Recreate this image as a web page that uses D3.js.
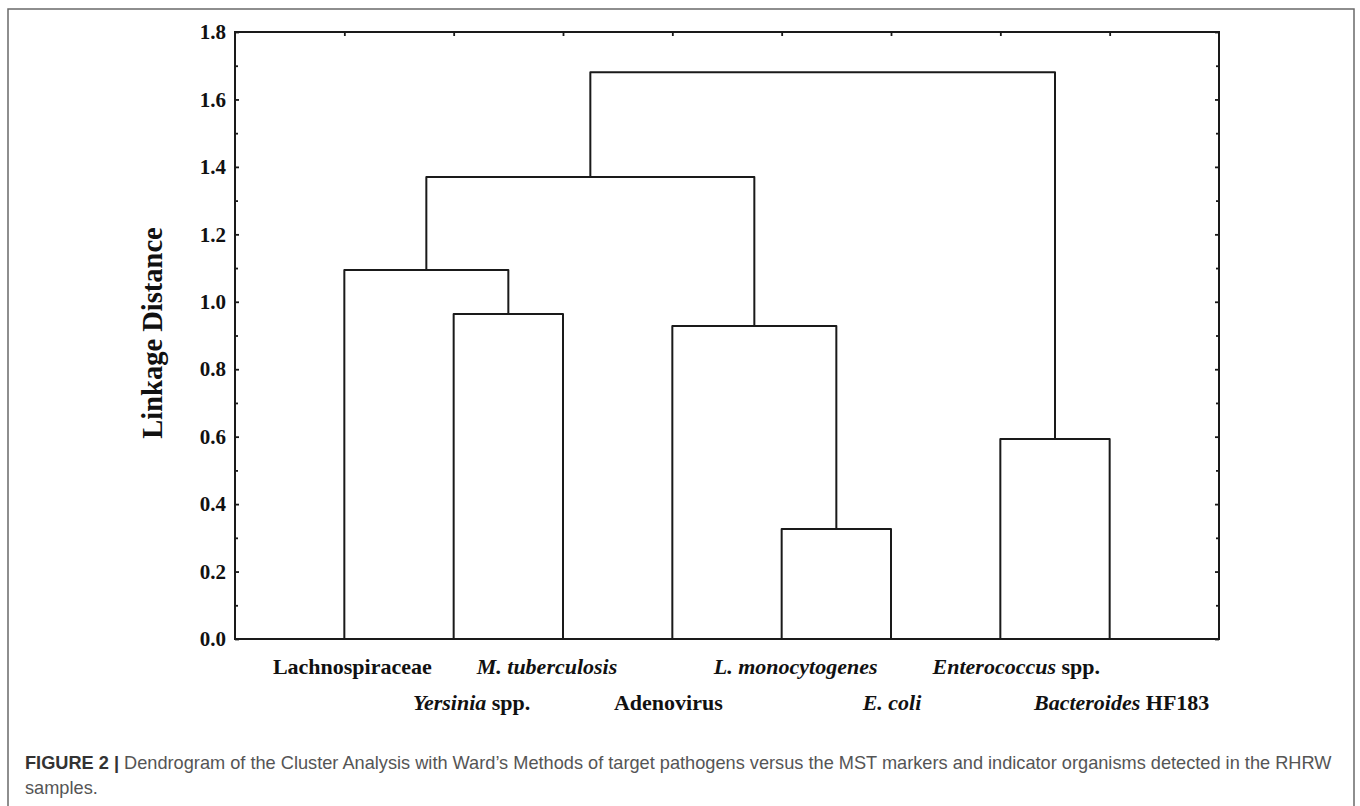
<!DOCTYPE html>
<html>
<head>
<meta charset="utf-8">
<script src="https://cdn.jsdelivr.net/npm/d3@7"></script>
<style>
  html, body { margin: 0; padding: 0; background: #fff; }
  svg { display: block; }
</style>
</head>
<body>
<svg id="chart" width="1360" height="806"></svg>
<script>
// Leaves in dendrogram order; each label is a list of [text, italic] runs
const leafNames = ["Lachnospiraceae", "Yersinia spp.", "M. tuberculosis", "Adenovirus",
                   "L. monocytogenes", "E. coli", "Enterococcus spp.", "Bacteroides HF183"];
const leafLabelRuns = [
  [["Lachnospiraceae", false]],
  [["Yersinia", true], [" spp.", false]],
  [["M. tuberculosis", true]],
  [["Adenovirus", false]],
  [["L. monocytogenes", true]],
  [["E. coli", true]],
  [["Enterococcus", true], [" spp.", false]],
  [["Bacteroides", true], [" HF183", false]]
];

// Joining steps (Ward's method): node ids 0-7 are leaves, each merge creates node 8, 9, ...
const mergeLeft   = [4, 6, 3, 1, 0, 12, 13];
const mergeRight  = [5, 7, 8, 2, 11, 10, 9];
const mergeHeight = [0.326, 0.593, 0.928, 0.964, 1.094, 1.370, 1.681];

const yTicks = [0.0, 0.2, 0.4, 0.6, 0.8, 1.0, 1.2, 1.4, 1.6, 1.8];
const yMinorTicks = [0.1, 0.3, 0.5, 0.7, 0.9, 1.1, 1.3, 1.5, 1.7];
const yTitle = "Linkage Distance";
const captionBold = "FIGURE 2 | ";
const captionLine1 = "Dendrogram of the Cluster Analysis with Ward\u2019s Methods of target pathogens versus the MST markers and indicator organisms detected in the RHRW";
const captionLine2 = "samples.";

const svg = d3.select("#chart");
const serif = "'Liberation Serif', 'Times New Roman', serif";
const sans = "'Liberation Sans', Arial, Helvetica, sans-serif";

// Outer figure frame (open at the bottom edge of the page)
svg.append("path")
  .attr("d", "M8,812 V9 H1354 V812")
  .attr("fill", "none").attr("stroke", "#6a6a6a").attr("stroke-width", 1.5);

const plot = { left: 235, right: 1219, top: 32, bottom: 639 };

const x = d3.scalePoint().domain(d3.range(leafNames.length))
  .range([plot.left, plot.right]).padding(1);
const y = d3.scaleLinear().domain([0, 1.8]).range([plot.bottom, plot.top]);

// Node positions: leaves on the point scale, clusters midway between their children
const nodeX = leafNames.map((_, i) => x(i));
const nodeH = leafNames.map(() => 0);
mergeLeft.forEach((l, k) => {
  const r = mergeRight[k];
  nodeX.push((nodeX[l] + nodeX[r]) / 2);
  nodeH.push(mergeHeight[k]);
});

const g = svg.append("g");
const ink = "#1a1a1a";

// Dendrogram links: up from each child, across at the merge height
const links = g.append("g").attr("fill", "none").attr("stroke", ink)
  .attr("stroke-width", 2).attr("stroke-linejoin", "round");
mergeLeft.forEach((l, k) => {
  const r = mergeRight[k];
  const h = mergeHeight[k];
  links.append("path").attr("d",
    `M${nodeX[l]},${y(nodeH[l])} V${y(h)} H${nodeX[r]} V${y(nodeH[r])}`);
});

// Axes
const axisStyle = sel => {
  sel.select(".domain").remove();
  sel.selectAll(".tick line").attr("stroke", ink).attr("stroke-width", 1.8);
};

const leftAxis = g.append("g").attr("transform", `translate(${plot.left},0)`)
  .call(d3.axisLeft(y).tickValues(yTicks).tickSize(-4).tickPadding(9).tickFormat(d3.format(".1f")));
leftAxis.call(axisStyle);
leftAxis.selectAll(".tick text")
  .attr("font-family", serif).attr("font-weight", "bold").attr("font-size", 21)
  .attr("fill", "#111");

g.append("g").attr("transform", `translate(${plot.left},0)`)
  .call(d3.axisLeft(y).tickValues(yMinorTicks).tickSize(-3).tickFormat(""))
  .call(axisStyle);

g.append("g").attr("transform", `translate(${plot.right},0)`)
  .call(d3.axisRight(y).tickValues(yTicks).tickSize(-4).tickFormat(""))
  .call(axisStyle);
g.append("g").attr("transform", `translate(${plot.right},0)`)
  .call(d3.axisRight(y).tickValues(yMinorTicks).tickSize(-3).tickFormat(""))
  .call(axisStyle);

g.append("g").attr("transform", `translate(0,${plot.top})`)
  .call(d3.axisTop(x).tickSize(-4).tickFormat(""))
  .call(axisStyle);

// Plot frame
g.append("rect")
  .attr("x", plot.left).attr("y", plot.top)
  .attr("width", plot.right - plot.left).attr("height", plot.bottom - plot.top)
  .attr("fill", "none").attr("stroke", ink).attr("stroke-width", 2);

// Y axis title
svg.append("text")
  .attr("transform", `translate(162,333) rotate(-90)`)
  .attr("text-anchor", "middle")
  .attr("font-family", serif).attr("font-weight", "bold").attr("font-size", 28.5)
  .attr("fill", "#111")
  .text(yTitle);

// Leaf labels in two staggered rows, nudged slightly as typeset under the tree
const rowBaseline = [674, 710];
const labelNudge = [8, 18, -16, -4, 14, 1, 16, 12];
leafLabelRuns.forEach((runs, i) => {
  const t = svg.append("text")
    .attr("x", x(i) + labelNudge[i]).attr("y", rowBaseline[i % 2])
    .attr("text-anchor", "middle")
    .attr("font-family", serif).attr("font-weight", "bold").attr("font-size", 22)
    .attr("fill", "#111");
  runs.forEach(([txt, it]) => {
    t.append("tspan").attr("font-style", it ? "italic" : "normal").text(txt);
  });
});

// Caption
const cap = svg.append("text")
  .attr("x", 25).attr("y", 769)
  .attr("font-family", sans).attr("font-size", 18.2).attr("fill", "#555");
cap.append("tspan").attr("font-weight", "bold").attr("fill", "#333").text(captionBold);
cap.append("tspan").text(captionLine1);
svg.append("text")
  .attr("x", 25).attr("y", 794)
  .attr("font-family", sans).attr("font-size", 18.2).attr("fill", "#555")
  .text(captionLine2);
</script>
</body>
</html>
